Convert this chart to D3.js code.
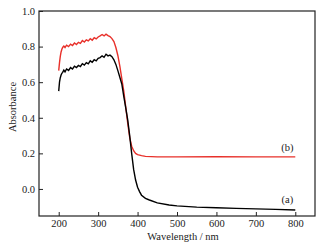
<!DOCTYPE html>
<html><head><meta charset="utf-8">
<script src="https://cdn.jsdelivr.net/npm/d3@7"></script>
<style>body{margin:0;background:#fff}svg{display:block}</style>
</head><body><svg id="c" width="329" height="249"></svg>
<script>
const xTicks = [200,300,400,500,600,700,800];
const yTicks = [0.0,0.2,0.4,0.6,0.8,1.0];
const waveA = [200,202,204,206,208,210,213,216,220,225,230,235,240,245,250,255,260,265,270,275,280,285,290,295,300,305,310,315,320,325,330,335,340,345,350,355,360,365,370,375,380,385,390,395,400,405,410,420,430,450,480,500,550,600,650,700,750,800];
const absA  = [0.55,0.6,0.625,0.64,0.65,0.655,0.668,0.658,0.674,0.666,0.682,0.674,0.69,0.682,0.694,0.688,0.704,0.696,0.71,0.703,0.72,0.712,0.726,0.72,0.734,0.738,0.748,0.74,0.757,0.748,0.752,0.743,0.726,0.7,0.665,0.628,0.59,0.52,0.455,0.388,0.3,0.2,0.11,0.05,0.01,-0.015,-0.035,-0.053,-0.062,-0.078,-0.09,-0.095,-0.102,-0.106,-0.109,-0.112,-0.115,-0.118];
const waveB = [200,202,204,206,208,210,213,216,220,225,230,235,240,245,250,255,260,265,270,275,280,285,290,295,300,305,310,315,320,325,330,335,340,345,350,355,360,365,370,375,380,385,390,395,400,410,420,450,500,600,700,800];
const absB  = [0.665,0.71,0.745,0.77,0.785,0.795,0.803,0.795,0.808,0.8,0.814,0.806,0.82,0.812,0.824,0.818,0.834,0.826,0.838,0.832,0.844,0.836,0.85,0.843,0.854,0.86,0.868,0.86,0.87,0.862,0.856,0.845,0.828,0.795,0.75,0.69,0.62,0.55,0.46,0.37,0.29,0.24,0.215,0.2,0.193,0.187,0.183,0.18,0.18,0.181,0.18,0.18];
const labels = [{t:"(b)",x:780,y:0.236},{t:"(a)",x:780,y:-0.056}];

const svg = d3.select("#c");
const m = {l:39,t:11,r:315,b:216};
const x = d3.scaleLinear().domain([150,850]).range([m.l,m.r]);
const y = d3.scaleLinear().domain([-0.152,1.0]).range([m.b,m.t]);
const font = "Liberation Serif, Times New Roman, serif";
const fs = 10.5;

const gx = svg.append("g").attr("transform",`translate(0,${m.b})`)
  .call(d3.axisBottom(x).tickValues(xTicks).tickSizeInner(-4).tickSizeOuter(0).tickPadding(6).tickFormat(d3.format("d")));
const gy = svg.append("g").attr("transform",`translate(${m.l},0)`)
  .call(d3.axisLeft(y).tickValues(yTicks).tickSizeInner(-4).tickSizeOuter(0).tickPadding(4).tickFormat(d3.format(".1f")));
[gx,gy].forEach(g=>{g.select(".domain").remove();g.selectAll("text").attr("font-family",font).attr("font-size",fs).attr("fill","#222");g.selectAll("line").attr("stroke","#222");});
gx.selectAll("text").attr("dy",null).attr("y",11);
svg.append("rect").attr("x",m.l).attr("y",m.t).attr("width",m.r-m.l).attr("height",m.b-m.t).attr("fill","none").attr("stroke","#222").attr("stroke-width",1.2);

const line = d3.line().x(d=>x(d[0])).y(d=>y(d[1]));
svg.append("path").datum(waveB.map((w,i)=>[w,absB[i]])).attr("d",line).attr("fill","none").attr("stroke","#e8302a").attr("stroke-width",1.4);
svg.append("path").datum(waveA.map((w,i)=>[w,absA[i]])).attr("d",line).attr("fill","none").attr("stroke","#000").attr("stroke-width",1.4);

svg.selectAll("text.lab").data(labels).enter().append("text").attr("class","lab")
  .attr("x",d=>x(d.x)).attr("y",d=>y(d.y)).attr("text-anchor","middle").attr("dy","0.35em")
  .attr("font-family",font).attr("font-size",fs).attr("fill","#222").text(d=>d.t);
svg.append("text").attr("x",(m.l+m.r)/2 + 6).attr("y",239.5).attr("text-anchor","middle")
  .attr("font-family",font).attr("font-size",fs).attr("fill","#222").text("Wavelength / nm");
svg.append("text").attr("transform",`translate(12,${107}) rotate(-90)`).attr("text-anchor","middle").attr("dy","0.35em")
  .attr("font-family",font).attr("font-size",fs).attr("fill","#222").text("Absorbance");
</script></body></html>
